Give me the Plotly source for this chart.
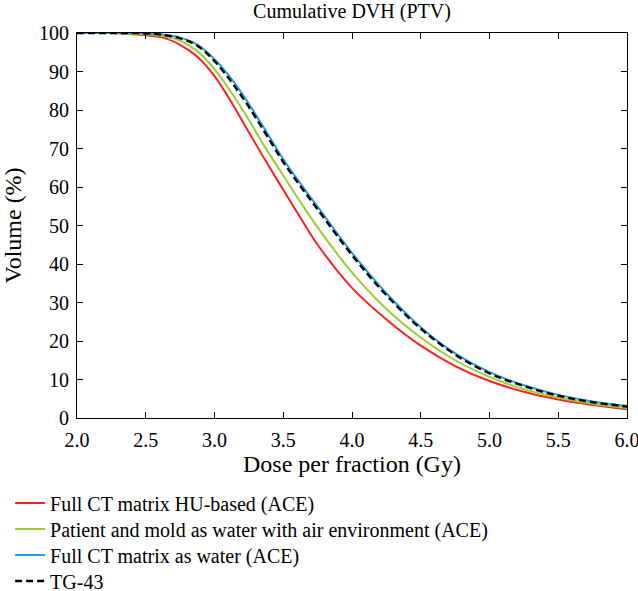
import plotly.graph_objects as go

dose = [2.0, 2.25, 2.5, 2.625, 2.75, 2.875, 3.0, 3.125, 3.25, 3.375, 3.5,
        3.625, 3.75, 4.0, 4.25, 4.5, 4.75, 5.0, 5.25, 5.5, 5.75, 6.0]

hu_based = [100, 100, 99.4, 98.8, 96.9, 93.8, 88.8, 81.9, 74.2, 66.6, 59.3,
            52.0, 45.0, 33.8, 25.6, 18.8, 13.5, 9.6, 6.8, 4.8, 3.4, 2.3]
mold_water = [100, 100, 99.6, 99.2, 98.0, 95.3, 90.6, 84.4, 77.4, 69.9, 63.0,
              56.1, 49.5, 37.8, 28.3, 20.9, 15.0, 10.7, 7.5, 5.3, 3.7, 2.6]
ct_water = [100, 100, 99.9, 99.6, 98.8, 97.0, 93.2, 88.0, 81.6, 74.5, 67.2,
            60.9, 54.9, 42.9, 32.4, 23.6, 16.8, 11.9, 8.5, 6.0, 4.3, 3.1]
tg43 = [100, 100, 99.9, 99.5, 98.6, 96.7, 92.7, 87.2, 80.8, 73.7, 66.5,
        60.2, 54.2, 42.3, 31.9, 23.2, 16.5, 11.6, 8.3, 5.8, 4.1, 3.0]

names = ["Full CT matrix HU-based (ACE)",
         "Patient and mold as water with air environment (ACE)",
         "Full CT matrix as water (ACE)",
         "TG-43"]
colors = ["#ff2020", "#9acd32", "#1ea0e6", "#000000"]
dashes = ["solid", "solid", "solid", "7px,4px"]
series = [hu_based, mold_water, ct_water, tg43]
legend_ids = ["legend", "legend2", "legend3", "legend4"]

x_ticks = [2.0, 2.5, 3.0, 3.5, 4.0, 4.5, 5.0, 5.5, 6.0]
y_ticks = [0, 10, 20, 30, 40, 50, 60, 70, 80, 90, 100]

fig = go.Figure()
for name, col, dash, ys, lid in zip(names, colors, dashes, series, legend_ids):
    fig.add_trace(go.Scatter(
        x=dose, y=ys, mode="lines", name=name, legend=lid,
        line=dict(color=col, width=2.4 if dash != "solid" else 2.0,
                  dash=dash, shape="spline", smoothing=1.0)))

font = "Liberation Serif"
legend_style = dict(x=-0.1216, xanchor="left", yanchor="middle",
                    orientation="v", font=dict(size=20, family=font),
                    itemwidth=30, bgcolor="rgba(0,0,0,0)")
legend_centers_px = [503, 529, 555, 581]
plot_bottom_px, plot_h_px = 418, 385
leg_layout = {}
for lid, c in zip(legend_ids, legend_centers_px):
    leg_layout[lid] = dict(legend_style, y=(plot_bottom_px - c) / plot_h_px)

fig.update_layout(
    width=638, height=591,
    margin=dict(l=77, r=11, t=33, b=173, autoexpand=False),
    paper_bgcolor="white", plot_bgcolor="white",
    font=dict(family=font, size=20, color="black"),
    title=dict(text="Cumulative DVH (PTV)", x=0.5, xref="paper", xanchor="center",
               y=0.994, yref="container", yanchor="top", pad=dict(t=0),
               font=dict(size=20)),
    showlegend=True,
    **leg_layout,
)
fig.update_xaxes(range=[2.0, 6.0], tickvals=x_ticks,
                 ticktext=[f"{v:.1f}" for v in x_ticks],
                 ticks="inside", ticklen=6, tickcolor="black",
                 ticklabelstandoff=4, ticklabeloverflow="allow",
                 showline=True, linecolor="black", linewidth=1, mirror="ticks",
                 showgrid=False, zeroline=False,
                 title=dict(text="Dose per fraction (Gy)", standoff=5))
fig.update_yaxes(range=[0, 100], tickvals=y_ticks,
                 ticks="inside", ticklen=6, tickcolor="black",
                 ticklabelstandoff=3,
                 showline=True, linecolor="black", linewidth=1, mirror="ticks",
                 showgrid=False, zeroline=False,
                 title=dict(text="Volume (%)", standoff=10))
fig.write_html("out.html",
               config={"displayModeBar": False},
               post_script="document.body.style.margin='0px';"
                           "document.body.style.overflow='hidden';")
